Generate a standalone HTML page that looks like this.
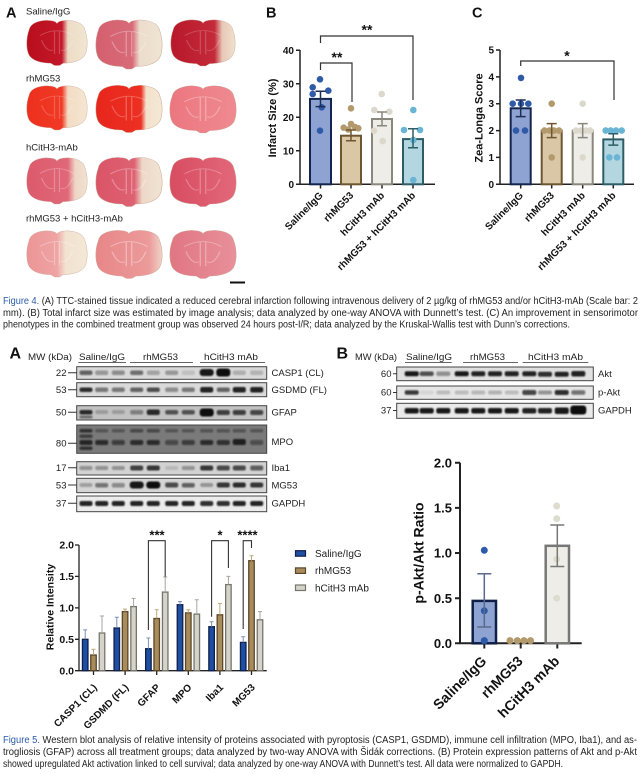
<!DOCTYPE html>
<html><head><meta charset="utf-8"><style>html,body{margin:0;padding:0;background:#fff}svg{display:block}text{font-family:"Liberation Sans",Arial,sans-serif}</style></head><body>
<svg width="643" height="774" viewBox="0 0 643 774" xmlns="http://www.w3.org/2000/svg">
<defs>
<path id="br" d="M-.9-.55C-.85-.9-.45-1-.2-.95C-.08-.93-.02-.88 0-.82C.02-.88.08-.93.2-.95C.45-1 .85-.9.9-.55C1-.2 1 .3.9.55C.78.82.45.9.2.9L.08 1H-.08L-.2.9C-.45.9-.78.82-.9.55C-1 .3-1-.2-.9-.55Z"/>
<path id="in" d="M-.55-.3Q0-.72.55-.3M-.08-.5L-.08.5M.08-.5L.08.5M-.5-.1Q-.32.45-.12.32M.5-.1Q.32.45.12.32"/>
<filter id="bl" x="-30%" y="-80%" width="160%" height="260%"><feGaussianBlur stdDeviation="0.8"/></filter>
<linearGradient id="g1"><stop offset="0" stop-color="#b80e1c"/><stop offset=".58" stop-color="#c4182a"/><stop offset=".68" stop-color="#eddcc6"/><stop offset="1" stop-color="#f1e6d2"/></linearGradient>
<linearGradient id="g2"><stop offset="0" stop-color="#d5606f"/><stop offset=".55" stop-color="#d86a78"/><stop offset=".66" stop-color="#ecdccb"/><stop offset="1" stop-color="#efe4d2"/></linearGradient>
<linearGradient id="g3"><stop offset="0" stop-color="#b8182a"/><stop offset=".68" stop-color="#c42a3a"/><stop offset=".8" stop-color="#e8c8b8"/><stop offset="1" stop-color="#efe0cc"/></linearGradient>
<linearGradient id="g4"><stop offset="0" stop-color="#ee2f1e"/><stop offset=".58" stop-color="#f03a26"/><stop offset=".68" stop-color="#f3dcc4"/><stop offset="1" stop-color="#f4e6d2"/></linearGradient>
<linearGradient id="g5"><stop offset="0" stop-color="#e8261c"/><stop offset=".68" stop-color="#ec3022"/><stop offset=".76" stop-color="#f3e2cc"/><stop offset="1" stop-color="#f4e8d4"/></linearGradient>
<linearGradient id="g6"><stop offset="0" stop-color="#ec7680"/><stop offset="1" stop-color="#ef8a90"/></linearGradient>
<linearGradient id="g7"><stop offset="0" stop-color="#dc5a6c"/><stop offset=".68" stop-color="#e06878"/><stop offset=".8" stop-color="#efd6c6"/><stop offset="1" stop-color="#f0e2d0"/></linearGradient>
<linearGradient id="g8"><stop offset="0" stop-color="#da5466"/><stop offset=".58" stop-color="#de6272"/><stop offset=".7" stop-color="#eed8c8"/><stop offset="1" stop-color="#f0e4d2"/></linearGradient>
<linearGradient id="g9"><stop offset="0" stop-color="#d84c60"/><stop offset="1" stop-color="#e2687a"/></linearGradient>
<linearGradient id="g10"><stop offset="0" stop-color="#ec9496"/><stop offset=".5" stop-color="#efa4a4"/><stop offset=".64" stop-color="#f2e2d0"/><stop offset="1" stop-color="#f3e8d6"/></linearGradient>
<linearGradient id="g11"><stop offset="0" stop-color="#e88688"/><stop offset=".8" stop-color="#ec9a9a"/><stop offset="1" stop-color="#f0d4c8"/></linearGradient>
<linearGradient id="g12"><stop offset="0" stop-color="#e07682"/><stop offset="1" stop-color="#e8909a"/></linearGradient>
</defs>
<rect width="643" height="774" fill="#fff"/>

<!-- ===== Figure 4 A: brains ===== -->
<text x="6" y="17.5" font-size="14.5" font-weight="bold" fill="#111">A</text>
<g font-size="9.5" fill="#222">
<text x="26" y="14.3">Saline/IgG</text>
<text x="26" y="81.6">rhMG53</text>
<text x="26" y="150.5">hCitH3-mAb</text>
<text x="26" y="221.5">rhMG53 + hCitH3-mAb</text>
</g>
<g stroke="#c8a898" stroke-width=".015">
<g transform="translate(57,42.5) scale(31,23)"><use href="#br" fill="url(#g1)"/><use href="#in" fill="none" stroke="#fff" stroke-opacity=".2" stroke-width=".04"/></g>
<g transform="translate(129,44) scale(34,25)"><use href="#br" fill="url(#g2)"/><use href="#in" fill="none" stroke="#fff" stroke-opacity=".3" stroke-width=".04"/></g>
<g transform="translate(203,42.5) scale(33,23.5)"><use href="#br" fill="url(#g3)"/><use href="#in" fill="none" stroke="#fff" stroke-opacity=".18" stroke-width=".04"/></g>
<g transform="translate(57,107.5) scale(31,22.5)"><use href="#br" fill="url(#g4)"/><use href="#in" fill="none" stroke="#fff" stroke-opacity=".2" stroke-width=".04"/></g>
<g transform="translate(129,108.5) scale(34,24)"><use href="#br" fill="url(#g5)"/><use href="#in" fill="none" stroke="#fff" stroke-opacity=".25" stroke-width=".04"/></g>
<g transform="translate(203,109) scale(34,24)"><use href="#br" fill="url(#g6)"/><use href="#in" fill="none" stroke="#fff" stroke-opacity=".3" stroke-width=".04"/></g>
<g transform="translate(57,180.5) scale(31,23.5)"><use href="#br" fill="url(#g7)"/><use href="#in" fill="none" stroke="#fff" stroke-opacity=".25" stroke-width=".04"/></g>
<g transform="translate(129,181.5) scale(34,25)"><use href="#br" fill="url(#g8)"/><use href="#in" fill="none" stroke="#fff" stroke-opacity=".3" stroke-width=".04"/></g>
<g transform="translate(203,181.5) scale(34,25)"><use href="#br" fill="url(#g9)"/><use href="#in" fill="none" stroke="#fff" stroke-opacity=".25" stroke-width=".04"/></g>
<g transform="translate(57,253.5) scale(31,23.5)"><use href="#br" fill="url(#g10)"/><use href="#in" fill="none" stroke="#fff" stroke-opacity=".3" stroke-width=".04"/></g>
<g transform="translate(129,254) scale(34,24.5)"><use href="#br" fill="url(#g11)"/><use href="#in" fill="none" stroke="#fff" stroke-opacity=".35" stroke-width=".04"/></g>
<g transform="translate(203,254) scale(34,24.5)"><use href="#br" fill="url(#g12)"/><use href="#in" fill="none" stroke="#fff" stroke-opacity=".3" stroke-width=".04"/></g>
</g>
<line x1="230" y1="282.5" x2="245" y2="282.5" stroke="#111" stroke-width="2"/>

<!-- ===== Figure 4 B ===== -->
<text x="266" y="17.5" font-size="14.5" font-weight="bold" fill="#111">B</text>
<g stroke="#222" stroke-width="1.5" fill="none">
<path d="M300 50V184.3H435"/>
<path d="M296 50.3H300M296 83.8H300M296 117.3H300M296 150.8H300M296 184.3H300"/>
<path d="M320.5 184.3V188.5M351 184.3V188.5M382 184.3V188.5M413 184.3V188.5"/>
</g>
<g font-size="10" font-weight="bold" text-anchor="end" fill="#111">
<text x="294" y="53.8">40</text><text x="294" y="87.3">30</text><text x="294" y="120.8">20</text><text x="294" y="154.3">10</text><text x="294" y="187.8">0</text>
</g>
<text transform="translate(276,118) rotate(-90)" font-size="11" font-weight="bold" text-anchor="middle" fill="#111">Infarct Size (%)</text>
<g stroke-width="2">
<rect x="310" y="98.9" width="21" height="85.4" fill="#8fa3d3" stroke="#13254f"/>
<rect x="341" y="135.7" width="20" height="48.6" fill="#d9c7a5" stroke="#6e5631"/>
<rect x="372" y="119" width="20" height="65.3" fill="#eeede7" stroke="#8a877d"/>
<rect x="403" y="139.1" width="20" height="45.2" fill="#b4d6e0" stroke="#2d5d66"/>
</g>
<g fill="#2f5aa8"><circle cx="320" cy="79.3" r="3.3"/><circle cx="312.7" cy="87.3" r="3.3"/><circle cx="328.3" cy="90.7" r="3.3"/><circle cx="312.7" cy="94" r="3.3"/><circle cx="321.7" cy="107.3" r="3.3"/><circle cx="320" cy="130.7" r="3.3"/></g>
<g fill="#b39a6c"><circle cx="351" cy="108.3" r="3.3"/><circle cx="343.7" cy="127.7" r="3.3"/><circle cx="351" cy="124" r="3.3"/><circle cx="358.3" cy="128.3" r="3.3"/><circle cx="348.3" cy="129.5" r="3.3"/><circle cx="355" cy="127" r="3.3"/></g>
<g fill="#dcd8cb"><circle cx="381.7" cy="94" r="3.3"/><circle cx="374.3" cy="110" r="3.3"/><circle cx="389.3" cy="111.7" r="3.3"/><circle cx="374" cy="130.7" r="3.3"/><circle cx="382.7" cy="141" r="3.3"/></g>
<g fill="#6ab4d4"><circle cx="413.3" cy="110" r="3.3"/><circle cx="404" cy="130" r="3.3"/><circle cx="420" cy="130" r="3.3"/><circle cx="413.3" cy="140" r="3.3"/><circle cx="413.3" cy="180" r="3.3"/></g>
<g stroke-width="1.5" fill="none">
<path d="M320.5 106.6V91.2M315.5 106.6H325.5M315.5 91.2H325.5" stroke="#1e2e55"/>
<path d="M351 140.7V130M346 140.7H356M346 130H356" stroke="#6e5631"/>
<path d="M382 125.7V112M377 125.7H387M377 112H387" stroke="#8a877d"/>
<path d="M413 147.8V128.7M408 147.8H418M408 128.7H418" stroke="#2d5d66"/>
</g>
<g stroke="#333" stroke-width="1.2" fill="none">
<path d="M320.5 43V36H413V100"/>
<path d="M320.5 70V63H352V102"/>
</g>
<g font-size="14" font-weight="bold" text-anchor="middle" fill="#111">
<text x="367" y="34.5">**</text><text x="337" y="62">**</text>
</g>
<g font-size="10" font-weight="bold" text-anchor="end" fill="#111">
<text transform="rotate(-45 323.5 196)" x="323.5" y="196">Saline/IgG</text>
<text transform="rotate(-45 354 196)" x="354" y="196">rhMG53</text>
<text transform="rotate(-45 385 196)" x="385" y="196">hCitH3 mAb</text>
<text transform="rotate(-45 416 196)" x="416" y="196">rhMG53 + hCitH3 mAb</text>
</g>

<!-- ===== Figure 4 C ===== -->
<text x="472" y="17.5" font-size="14.5" font-weight="bold" fill="#111">C</text>
<g stroke="#222" stroke-width="1.5" fill="none">
<path d="M500 50V184.3H634"/>
<path d="M496 50H500M496 76.9H500M496 103.7H500M496 130.6H500M496 157.4H500M496 184.3H500"/>
<path d="M520.7 184.3V188.5M551.7 184.3V188.5M582.7 184.3V188.5M613.3 184.3V188.5"/>
</g>
<g font-size="10" font-weight="bold" text-anchor="end" fill="#111">
<text x="494" y="53.5">5</text><text x="494" y="80.4">4</text><text x="494" y="107.2">3</text><text x="494" y="134.1">2</text><text x="494" y="160.9">1</text><text x="494" y="187.8">0</text>
</g>
<text transform="translate(482.5,118) rotate(-90)" font-size="11" font-weight="bold" text-anchor="middle" fill="#111">Zea-Longa Score</text>
<g stroke-width="2">
<rect x="510.7" y="108.3" width="20" height="76" fill="#8fa3d3" stroke="#13254f"/>
<rect x="541.7" y="130.6" width="20" height="53.7" fill="#d9c7a5" stroke="#6e5631"/>
<rect x="572.7" y="130.6" width="20" height="53.7" fill="#eeede7" stroke="#8a877d"/>
<rect x="603.3" y="139.4" width="20" height="44.9" fill="#b4d6e0" stroke="#2d5d66"/>
</g>
<g fill="#2f5aa8"><circle cx="521" cy="77.9" r="3.3"/><circle cx="512.7" cy="103.7" r="3.3"/><circle cx="521" cy="103.7" r="3.3"/><circle cx="528.3" cy="103.7" r="3.3"/><circle cx="516" cy="130.6" r="3.3"/><circle cx="525" cy="130.6" r="3.3"/></g>
<g fill="#b39a6c"><circle cx="551.7" cy="103.7" r="3.3"/><circle cx="544.5" cy="130.6" r="3.3"/><circle cx="549.5" cy="130.6" r="3.3"/><circle cx="554" cy="130.6" r="3.3"/><circle cx="559" cy="130.6" r="3.3"/><circle cx="551.7" cy="157.4" r="3.3"/></g>
<g fill="#dcd8cb"><circle cx="582.7" cy="103.7" r="3.3"/><circle cx="576" cy="130.6" r="3.3"/><circle cx="581" cy="130.6" r="3.3"/><circle cx="586" cy="130.6" r="3.3"/><circle cx="590" cy="130.6" r="3.3"/><circle cx="582.7" cy="157.4" r="3.3"/></g>
<g fill="#6ab4d4"><circle cx="605.7" cy="130.6" r="3.3"/><circle cx="610.7" cy="130.6" r="3.3"/><circle cx="616" cy="130.6" r="3.3"/><circle cx="621.7" cy="130.6" r="3.3"/><circle cx="609.3" cy="157.4" r="3.3"/><circle cx="617" cy="157.4" r="3.3"/></g>
<g stroke-width="1.5" fill="none">
<path d="M520.7 116.6V100M515.7 116.6H525.7M515.7 100H525.7" stroke="#1e2e55"/>
<path d="M551.7 137.6V123.6M546.7 137.6H556.7M546.7 123.6H556.7" stroke="#6e5631"/>
<path d="M582.7 137.6V123.6M577.7 137.6H587.7M577.7 123.6H587.7" stroke="#8a877d"/>
<path d="M613.3 145.1V133.8M608.3 145.1H618.3M608.3 133.8H618.3" stroke="#2d5d66"/>
</g>
<path d="M520.7 66V61H614V100" stroke="#333" stroke-width="1.2" fill="none"/>
<text x="567" y="60.5" font-size="14" font-weight="bold" text-anchor="middle" fill="#111">*</text>
<g font-size="10" font-weight="bold" text-anchor="end" fill="#111">
<text transform="rotate(-45 523.7 196)" x="523.7" y="196">Saline/IgG</text>
<text transform="rotate(-45 554.7 196)" x="554.7" y="196">rhMG53</text>
<text transform="rotate(-45 585.7 196)" x="585.7" y="196">hCitH3 mAb</text>
<text transform="rotate(-45 616.3 196)" x="616.3" y="196">rhMG53 + hCitH3 mAb</text>
</g>

<!-- ===== Figure 4 caption ===== -->
<g font-size="10" fill="#1e1e1e">
<text x="3" y="304" textLength="635" lengthAdjust="spacingAndGlyphs"><tspan fill="#2b5aa8">Figure 4.</tspan> (A) TTC-stained tissue indicated a reduced cerebral infarction following intravenous delivery of 2 µg/kg of rhMG53 and/or hCitH3-mAb (Scale bar: 2</text>
<text x="3" y="316" textLength="635" lengthAdjust="spacingAndGlyphs">mm). (B) Total infarct size was estimated by image analysis; data analyzed by one-way ANOVA with Dunnett’s test. (C) An improvement in sensorimotor</text>
<text x="3" y="327.5" textLength="567" lengthAdjust="spacingAndGlyphs">phenotypes in the combined treatment group was observed 24 hours post-I/R; data analyzed by the Kruskal-Wallis test with Dunn’s corrections.</text>
</g>

<!-- ===== Figure 5 A: western blot ===== -->
<text x="9.5" y="358.5" font-size="16" font-weight="bold" fill="#111">A</text>
<g font-size="9.5" fill="#222">
<text x="28" y="360" textLength="44" lengthAdjust="spacingAndGlyphs">MW (kDa)</text>
<text x="79" y="360" textLength="46" lengthAdjust="spacingAndGlyphs">Saline/IgG</text>
<text x="143" y="360" textLength="35" lengthAdjust="spacingAndGlyphs">rhMG53</text>
<text x="204" y="360" textLength="54" lengthAdjust="spacingAndGlyphs">hCitH3 mAb</text>
</g>
<g stroke="#666" stroke-width="1"><path d="M78.3 362.5H126M130 362.5H193M200 362.5H265"/></g>
<g stroke="#444" stroke-width="1">
<rect x="76.7" y="366.7" width="190" height="12.6" fill="#d9d9d9"/>
<rect x="76.7" y="382.7" width="190" height="14" fill="#dadada"/>
<rect x="76.7" y="405.7" width="190" height="14.3" fill="#c2c2c2"/>
<rect x="76.7" y="425" width="190" height="28.3" fill="#7a7a7a"/>
<rect x="76.7" y="461.7" width="190" height="13.3" fill="#d2d2d2"/>
<rect x="76.7" y="478.3" width="190" height="14.4" fill="#d5d5d5"/>
<rect x="76.7" y="496" width="190" height="15.7" fill="#ececec"/>
</g>
<g filter="url(#bl)" fill="#111">
<rect x="79.5" y="370.5" width="13" height="4.5" rx="2" opacity=".6"/><rect x="95.2" y="370.5" width="13" height="4.5" rx="2" opacity=".35"/><rect x="111.8" y="370.5" width="13" height="4.5" rx="2" opacity=".4"/><rect x="130.2" y="370.5" width="13" height="4.5" rx="2" opacity=".55"/><rect x="146.8" y="370.5" width="13" height="4.5" rx="2" opacity=".25"/><rect x="165.2" y="370.5" width="13" height="4.5" rx="2" opacity=".3"/><rect x="181.8" y="370.5" width="13" height="4.5" rx="2" opacity=".12"/><rect x="199.7" y="369" width="14" height="7" rx="3" opacity=".95"/><rect x="216.3" y="368.5" width="14" height="8" rx="3" opacity="1"/><rect x="232.8" y="370.5" width="13" height="4.5" rx="2" opacity=".2"/><rect x="250.2" y="370.5" width="13" height="4.5" rx="2" opacity=".18"/>
<rect x="79.5" y="387.5" width="13" height="4.5" rx="2" opacity=".85"/><rect x="95.2" y="387.5" width="13" height="4.5" rx="2" opacity=".5"/><rect x="111.8" y="387.5" width="13" height="4.5" rx="2" opacity=".5"/><rect x="130.2" y="387.5" width="13" height="4.5" rx="2" opacity=".6"/><rect x="146.8" y="387.5" width="13" height="4.5" rx="2" opacity=".7"/><rect x="165.2" y="387.5" width="13" height="4.5" rx="2" opacity=".4"/><rect x="181.8" y="387.5" width="13" height="4.5" rx="2" opacity=".5"/><rect x="200.2" y="387" width="13" height="5.5" rx="2" opacity=".9"/><rect x="216.8" y="387.5" width="13" height="4.5" rx="2" opacity=".6"/><rect x="232.8" y="387" width="13" height="5.5" rx="2" opacity=".9"/><rect x="250.2" y="387" width="13" height="5.5" rx="2" opacity=".9"/>
<rect x="79.5" y="410" width="13" height="4.5" rx="2" opacity=".85"/><rect x="79.5" y="415.5" width="13" height="3" rx="1.5" opacity=".5"/><rect x="95.2" y="410" width="13" height="4" rx="2" opacity=".2"/><rect x="111.8" y="410" width="13" height="4" rx="2" opacity=".2"/><rect x="130.2" y="410" width="13" height="4.5" rx="2" opacity=".4"/><rect x="146.8" y="409.5" width="13" height="5.5" rx="2" opacity=".85"/><rect x="165.2" y="410" width="13" height="4.5" rx="2" opacity=".65"/><rect x="181.8" y="410" width="13" height="4.5" rx="2" opacity=".65"/><rect x="199.7" y="408.5" width="14" height="8" rx="3" opacity="1"/><rect x="216.8" y="410" width="13" height="5" rx="2" opacity=".75"/><rect x="232.8" y="410" width="13" height="5" rx="2" opacity=".75"/><rect x="250.2" y="410" width="13" height="5" rx="2" opacity=".7"/>
<rect x="79.5" y="429" width="13" height="3.5" rx="1.5" opacity=".7"/><rect x="79.5" y="434.5" width="13" height="3.5" rx="1.5" opacity=".6"/><rect x="79.5" y="446.5" width="13" height="3.5" rx="1.5" opacity=".7"/>
<rect x="95.2" y="429" width="13" height="3.5" rx="1.5" opacity=".3"/><rect x="111.8" y="429" width="13" height="3.5" rx="1.5" opacity=".3"/><rect x="130.2" y="429" width="13" height="3.5" rx="1.5" opacity=".5"/><rect x="146.8" y="429" width="13" height="3.5" rx="1.5" opacity=".5"/><rect x="165.2" y="429" width="13" height="3.5" rx="1.5" opacity=".3"/><rect x="181.8" y="429" width="13" height="3.5" rx="1.5" opacity=".3"/><rect x="200.2" y="429" width="13" height="3.5" rx="1.5" opacity=".4"/><rect x="216.8" y="429" width="13" height="3.5" rx="1.5" opacity=".4"/><rect x="232.8" y="429" width="13" height="3.5" rx="1.5" opacity=".4"/><rect x="250.2" y="429" width="13" height="3.5" rx="1.5" opacity=".3"/>
<rect x="79.5" y="440" width="13" height="5" rx="2" opacity=".8"/><rect x="95.2" y="440" width="13" height="5" rx="2" opacity=".75"/><rect x="111.8" y="440" width="13" height="5" rx="2" opacity=".6"/><rect x="130.2" y="440" width="13" height="5" rx="2" opacity=".75"/><rect x="146.8" y="440" width="13" height="5" rx="2" opacity=".75"/><rect x="165.2" y="440" width="13" height="5" rx="2" opacity=".5"/><rect x="181.8" y="440" width="13" height="5" rx="2" opacity=".6"/><rect x="200.2" y="440" width="13" height="5" rx="2" opacity=".75"/><rect x="216.8" y="440" width="13" height="5" rx="2" opacity=".7"/><rect x="232.8" y="439" width="13" height="6" rx="2" opacity=".85"/><rect x="250.2" y="440" width="13" height="5" rx="2" opacity=".45"/>
<rect x="79.5" y="466" width="13" height="4" rx="2" opacity=".35"/><rect x="95.2" y="466" width="13" height="4" rx="2" opacity=".35"/><rect x="111.8" y="466" width="13" height="4" rx="2" opacity=".3"/><rect x="130.2" y="465.5" width="13" height="5" rx="2" opacity=".75"/><rect x="146.8" y="465.5" width="13" height="5" rx="2" opacity=".8"/><rect x="165.2" y="466" width="13" height="4" rx="2" opacity=".12"/><rect x="181.8" y="466" width="13" height="4" rx="2" opacity=".35"/><rect x="200.2" y="465.5" width="13" height="5" rx="2" opacity=".8"/><rect x="216.8" y="465.5" width="13" height="5" rx="2" opacity=".7"/><rect x="232.8" y="465.5" width="13" height="5" rx="2" opacity=".7"/><rect x="250.2" y="465.5" width="13" height="5" rx="2" opacity=".6"/>
<rect x="79.5" y="483" width="13" height="4" rx="2" opacity=".25"/><rect x="95.2" y="483" width="13" height="4.5" rx="2" opacity=".5"/><rect x="111.8" y="483" width="13" height="4.5" rx="2" opacity=".4"/><rect x="129.7" y="481.5" width="14" height="7" rx="3" opacity=".95"/><rect x="146.3" y="481.5" width="14" height="7" rx="3" opacity="1"/><rect x="165.2" y="482.5" width="13" height="5" rx="2" opacity=".7"/><rect x="181.8" y="483" width="13" height="4.5" rx="2" opacity=".6"/><rect x="200.2" y="483" width="13" height="4" rx="2" opacity=".3"/><rect x="216.8" y="482.5" width="13" height="5" rx="2" opacity=".8"/><rect x="232.8" y="482.5" width="13" height="5" rx="2" opacity=".85"/><rect x="250.2" y="482.5" width="13" height="5" rx="2" opacity=".8"/>
<rect x="79.5" y="501" width="13" height="5" rx="2" opacity=".9"/><rect x="95.2" y="501" width="13" height="5" rx="2" opacity=".9"/><rect x="111.8" y="501" width="13" height="5" rx="2" opacity=".9"/><rect x="130.2" y="501" width="13" height="5" rx="2" opacity=".9"/><rect x="146.8" y="501" width="13" height="5" rx="2" opacity=".9"/><rect x="165.2" y="501" width="13" height="5" rx="2" opacity=".9"/><rect x="181.8" y="501" width="13" height="5" rx="2" opacity=".9"/><rect x="200.2" y="501" width="13" height="5" rx="2" opacity=".85"/><rect x="216.8" y="501" width="13" height="5" rx="2" opacity=".85"/><rect x="232.8" y="501" width="13" height="5" rx="2" opacity=".9"/><rect x="250.2" y="501" width="13" height="5" rx="2" opacity=".9"/>
</g>
<g font-size="9.5" fill="#222" text-anchor="end">
<text x="66.5" y="376">22</text><text x="66.5" y="393">53</text><text x="66.5" y="415.5">50</text><text x="66.5" y="446.5">80</text><text x="66.5" y="471">17</text><text x="66.5" y="488.3">53</text><text x="66.5" y="506.6">37</text>
</g>
<g stroke="#333" stroke-width="1"><path d="M68 372.7H77M68 389.7H77M68 412.3H77M68 443.3H77M68 467.7H77M68 485H77M68 503.3H77"/></g>
<g font-size="9.5" fill="#222">
<text x="271.5" y="376">CASP1 (CL)</text><text x="271.5" y="393">GSDMD (FL)</text><text x="271.5" y="415.5">GFAP</text><text x="271.5" y="445">MPO</text><text x="271.5" y="471">Iba1</text><text x="271.5" y="488.3">MG53</text><text x="271.5" y="506.6">GAPDH</text>
</g>

<!-- ===== Figure 5 A: bar chart ===== -->
<g stroke="#222" stroke-width="1.3" fill="none">
<path d="M79 545V670.7H266.7"/>
<path d="M75 545H79M75 576.4H79M75 607.9H79M75 639.3H79M75 670.7H79"/>
<path d="M93.5 670.7V675M125.1 670.7V675M156.7 670.7V675M188.3 670.7V675M219.9 670.7V675M251.5 670.7V675"/>
</g>
<g font-size="10.5" font-weight="bold" text-anchor="end" fill="#111">
<text x="74" y="548.7">2.0</text><text x="74" y="580.1">1.5</text><text x="74" y="611.6">1.0</text><text x="74" y="643">0.5</text><text x="74" y="674.4">0.0</text>
</g>
<text transform="translate(53.5,607) rotate(-90)" font-size="10.5" font-weight="bold" text-anchor="middle" fill="#111">Relative Intensity</text>
<g stroke-width="1.3">
<g fill="#1f4fa0" stroke="#0e1f4d">
<rect x="82.45" y="639.3" width="5.5" height="31.4"/><rect x="114.05" y="628" width="5.5" height="42.7"/><rect x="145.65" y="648.7" width="5.5" height="22"/><rect x="177.25" y="604.7" width="5.5" height="66"/><rect x="208.85" y="626.7" width="5.5" height="44"/><rect x="240.45" y="642.4" width="5.5" height="28.3"/>
</g>
<g fill="#a88c5c" stroke="#5c4628">
<rect x="90.75" y="655" width="5.5" height="15.7"/><rect x="122.35" y="611.6" width="5.5" height="59.1"/><rect x="153.95" y="618.5" width="5.5" height="52.2"/><rect x="185.55" y="612.9" width="5.5" height="57.8"/><rect x="217.15" y="614.8" width="5.5" height="55.9"/><rect x="248.75" y="560.7" width="5.5" height="110"/>
</g>
<g fill="#d6d4ca" stroke="#76746c">
<rect x="99.25" y="633" width="5.5" height="37.7"/><rect x="130.85" y="606.6" width="5.5" height="64.1"/><rect x="162.45" y="592.1" width="5.5" height="78.6"/><rect x="194.05" y="614.1" width="5.5" height="56.6"/><rect x="225.65" y="584.6" width="5.5" height="86.1"/><rect x="257.25" y="619.8" width="5.5" height="50.9"/>
</g>
</g>
<g stroke-width="1" fill="none">
<path stroke="#7d8fb5" d="M85.2 639.3V629.9M83.2 629.9H87.2M116.8 628V617.3M114.8 617.3H118.8M148.4 648.7V638M146.4 638H150.4M180 604.7V601.6M178 601.6H182M211.6 626.7V621.7M209.6 621.7H213.6M243.2 642.4V636.8M241.2 636.8H245.2"/>
<path stroke="#c2a77a" d="M93.5 655V649.3M91.5 649.3H95.5M125.1 611.6V609.1M123.1 609.1H127.1M156.7 618.5V609.7M154.7 609.7H158.7M188.3 612.9V609.7M186.3 609.7H190.3M219.9 614.8V603.4M217.9 603.4H221.9M251.5 560.7V555.7M249.5 555.7H253.5"/>
<path stroke="#a8a69c" d="M102 633V616M100 616H104M133.6 606.6V598.4M131.6 598.4H135.6M165.2 592.1V577M163.2 577H167.2M196.8 614.1V599.7M194.8 599.7H198.8M228.4 584.6V576.4M226.4 576.4H230.4M260 619.8V611.6M258 611.6H262"/>
</g>
<g stroke="#333" stroke-width="1.1" fill="none">
<path d="M148.4 630V540.7H165.2V576.7"/>
<path d="M211.6 616.7V540.7H228.4V568"/>
<path d="M243.2 629V540.7H251.5V548"/>
</g>
<g font-size="13" font-weight="bold" text-anchor="middle" fill="#111">
<text x="157" y="539.5">***</text><text x="220" y="539.5">*</text><text x="247.5" y="539.5">****</text>
</g>
<g font-size="10" font-weight="bold" text-anchor="end" fill="#111">
<text transform="rotate(-45 97.5 688)" x="97.5" y="688">CASP1 (CL)</text>
<text transform="rotate(-45 129.1 688)" x="129.1" y="688">GSDMD (FL)</text>
<text transform="rotate(-45 160.7 688)" x="160.7" y="688">GFAP</text>
<text transform="rotate(-45 192.3 688)" x="192.3" y="688">MPO</text>
<text transform="rotate(-45 223.9 688)" x="223.9" y="688">Iba1</text>
<text transform="rotate(-45 255.5 688)" x="255.5" y="688">MG53</text>
</g>
<g stroke-width="1.2">
<rect x="295.5" y="550.7" width="10" height="5.5" fill="#1f4fa0" stroke="#0e1f4d"/>
<rect x="295.5" y="567.9" width="10" height="5.5" fill="#a88c5c" stroke="#5c4628"/>
<rect x="295.5" y="585" width="10" height="5.5" fill="#d6d4ca" stroke="#76746c"/>
</g>
<g font-size="10" fill="#222">
<text x="315" y="557">Saline/IgG</text><text x="315" y="574.2">rhMG53</text><text x="315" y="591.3">hCitH3 mAb</text>
</g>

<!-- ===== Figure 5 B: western blot ===== -->
<text x="336.5" y="358.5" font-size="16" font-weight="bold" fill="#111">B</text>
<g font-size="9.5" fill="#222">
<text x="355" y="360" textLength="42" lengthAdjust="spacingAndGlyphs">MW (kDa)</text>
<text x="406" y="360" textLength="46" lengthAdjust="spacingAndGlyphs">Saline/IgG</text>
<text x="470" y="360" textLength="35" lengthAdjust="spacingAndGlyphs">rhMG53</text>
<text x="528" y="360" textLength="55" lengthAdjust="spacingAndGlyphs">hCitH3 mAb</text>
</g>
<g stroke="#666" stroke-width="1"><path d="M405 362.5H451.7M463 362.5H518M522.7 362.5H588.3"/></g>
<g stroke="#444" stroke-width="1">
<rect x="396.7" y="367" width="196.6" height="13.7" fill="#e0e0e0"/>
<rect x="396.7" y="386" width="196.6" height="13.3" fill="#e6e6e6"/>
<rect x="396.7" y="403.3" width="196.6" height="15" fill="#eaeaea"/>
</g>
<g filter="url(#bl)" fill="#111">
<rect x="404.7" y="371.3" width="14" height="5" rx="2" opacity=".95"/><rect x="419.7" y="371.5" width="14" height="4.5" rx="2" opacity=".7"/><rect x="436.3" y="371.5" width="14" height="4.5" rx="2" opacity=".4"/><rect x="454.7" y="371.3" width="14" height="5" rx="2" opacity=".95"/><rect x="471.3" y="371.3" width="14" height="5" rx="2" opacity=".9"/><rect x="488" y="371.3" width="14" height="5" rx="2" opacity=".9"/><rect x="504.7" y="371.3" width="14" height="5" rx="2" opacity=".9"/><rect x="522.3" y="371.3" width="14" height="5" rx="2" opacity=".9"/><rect x="538" y="371.8" width="14" height="5" rx="2" opacity=".85"/><rect x="554.7" y="371.8" width="14" height="5" rx="2" opacity=".9"/><rect x="571.3" y="371" width="14" height="5.5" rx="2" opacity=".9"/>
<rect x="404.7" y="390.3" width="14" height="4.5" rx="2" opacity=".8"/><rect x="419.7" y="390.5" width="14" height="4" rx="2" opacity=".08"/><rect x="436.3" y="390.5" width="14" height="4" rx="2" opacity=".18"/><rect x="454.7" y="390.5" width="14" height="4" rx="2" opacity=".18"/><rect x="471.3" y="390.5" width="14" height="4" rx="2" opacity=".2"/><rect x="488" y="390.5" width="14" height="4" rx="2" opacity=".22"/><rect x="504.7" y="390.5" width="14" height="4" rx="2" opacity=".18"/><rect x="522.3" y="390" width="14" height="5" rx="2" opacity=".75"/><rect x="538" y="390.5" width="14" height="4" rx="2" opacity=".4"/><rect x="554.7" y="390" width="14" height="5" rx="2" opacity=".85"/><rect x="571.3" y="390.3" width="14" height="4.5" rx="2" opacity=".55"/>
<rect x="404.7" y="408" width="14" height="5.5" rx="2" opacity=".95"/><rect x="419.7" y="408" width="14" height="5.5" rx="2" opacity=".95"/><rect x="436.3" y="408" width="14" height="5.5" rx="2" opacity=".95"/><rect x="454.7" y="408" width="14" height="5.5" rx="2" opacity=".95"/><rect x="471.3" y="408" width="14" height="5.5" rx="2" opacity=".95"/><rect x="488" y="408" width="14" height="5.5" rx="2" opacity=".95"/><rect x="504.7" y="408" width="14" height="5.5" rx="2" opacity=".95"/><rect x="522.3" y="408" width="14" height="5.5" rx="2" opacity=".9"/><rect x="538" y="408" width="14" height="5.5" rx="2" opacity=".9"/><rect x="554.7" y="407.5" width="14" height="6.5" rx="2" opacity=".95"/><rect x="570.3" y="405.5" width="16" height="9" rx="3" opacity="1"/>
</g>
<g font-size="9.5" fill="#222" text-anchor="end">
<text x="391.5" y="377">60</text><text x="391.5" y="395.5">60</text><text x="391.5" y="413.5">37</text>
</g>
<g stroke="#333" stroke-width="1"><path d="M393 373.7H397M393 392.5H397M393 410.5H397"/></g>
<g font-size="9.5" fill="#222">
<text x="598" y="377">Akt</text><text x="598" y="395.5">p-Akt</text><text x="598" y="413.5">GAPDH</text>
</g>

<!-- ===== Figure 5 B: chart ===== -->
<g stroke="#222" stroke-width="2" fill="none">
<path d="M460 462.7V643.3H581.7"/>
<path d="M455 462.7H460M455 507.9H460M455 553H460M455 598.2H460M455 643.3H460"/>
<path d="M484.3 643.3V648.5M520.7 643.3V648.5M557.3 643.3V648.5"/>
</g>
<g font-size="13" font-weight="bold" text-anchor="end" fill="#111">
<text x="452" y="467.4">2.0</text><text x="452" y="512.6">1.5</text><text x="452" y="557.7">1.0</text><text x="452" y="602.9">0.5</text><text x="452" y="648">0.0</text>
</g>
<text transform="translate(423.5,553) rotate(-90)" font-size="14" font-weight="bold" text-anchor="middle" fill="#111">p-Akt/Akt Ratio</text>
<g stroke-width="2.5">
<rect x="472.7" y="600.9" width="23.3" height="42.4" fill="#8fa3d3" stroke="#101f48"/>
<rect x="545.7" y="545.8" width="23.3" height="97.5" fill="#eeede7" stroke="#777"/>
</g>
<g fill="#2f5aa8"><circle cx="484.3" cy="550.3" r="3.5"/><circle cx="484.3" cy="610.8" r="3.5"/><circle cx="484.3" cy="640.6" r="3.5"/></g>
<g fill="#b39a6c"><circle cx="510" cy="640.6" r="3.5"/><circle cx="517.3" cy="640.6" r="3.5"/><circle cx="524" cy="640.6" r="3.5"/><circle cx="530.5" cy="640.6" r="3.5"/></g>
<g fill="#dedbcf"><circle cx="556.7" cy="506" r="3.5"/><circle cx="556.7" cy="518.7" r="3.5"/><circle cx="556.7" cy="559.3" r="3.5"/><circle cx="556.7" cy="598.2" r="3.5"/></g>
<g stroke-width="1.5" fill="none">
<path stroke="#5a6a8a" d="M484.3 627V573.8M477.3 627H491.3M477.3 573.8H491.3"/>
<path stroke="#777" d="M557.3 566.5V525M550.3 566.5H564.3M550.3 525H564.3"/>
</g>
<g font-size="14" font-weight="bold" text-anchor="end" fill="#111">
<text transform="rotate(-45 487.3 662)" x="487.3" y="662">Saline/IgG</text>
<text transform="rotate(-45 523.7 662)" x="523.7" y="662">rhMG53</text>
<text transform="rotate(-45 560.3 662)" x="560.3" y="662">hCitH3 mAb</text>
</g>

<!-- ===== Figure 5 caption ===== -->
<g font-size="10" fill="#1e1e1e">
<text x="3" y="743" textLength="634" lengthAdjust="spacingAndGlyphs"><tspan fill="#2b5aa8">Figure 5.</tspan> Western blot analysis of relative intensity of proteins associated with pyroptosis (CASP1, GSDMD), immune cell infiltration (MPO, Iba1), and as-</text>
<text x="3" y="755" textLength="634" lengthAdjust="spacingAndGlyphs">trogliosis (GFAP) across all treatment groups; data analyzed by two-way ANOVA with Šidák corrections.  (B) Protein expression patterns of Akt and p-Akt</text>
<text x="3" y="767" textLength="560" lengthAdjust="spacingAndGlyphs">showed upregulated Akt activation linked to cell survival; data analyzed by one-way ANOVA with Dunnett’s test. All data were normalized to GAPDH.</text>
</g>
</svg>
</body></html>
